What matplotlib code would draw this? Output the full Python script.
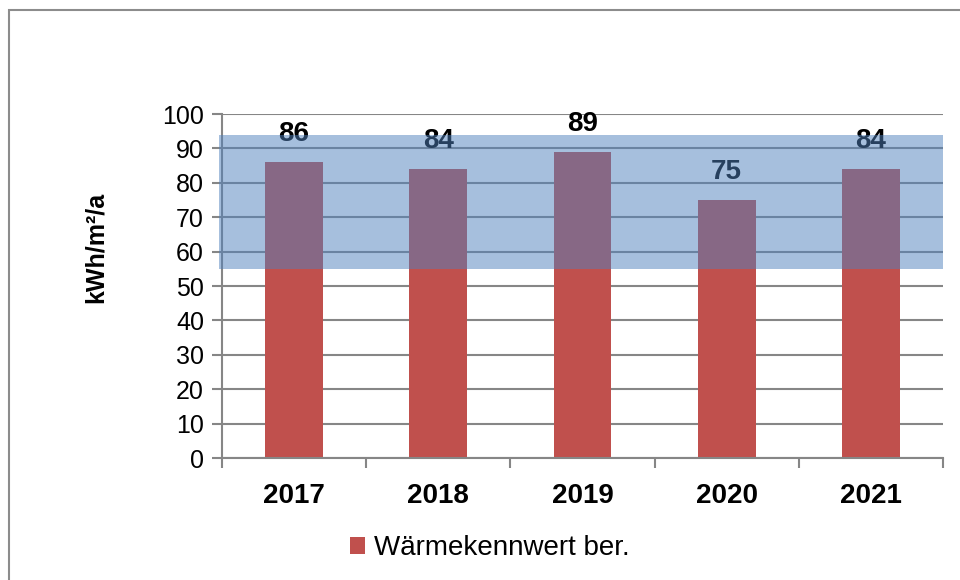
import matplotlib.pyplot as plt
from matplotlib.patches import Rectangle

plt.rcParams['font.family'] = ['Liberation Sans', 'DejaVu Sans']

years = ['2017', '2018', '2019', '2020', '2021']
values = [86, 84, 89, 75, 84]
series_name = 'Wärmekennwert ber.'
band_low, band_high = 55, 94
y_label = 'kWh/m²/a'

bar_color = '#C0504D'
band_color = '#4F81BD'
axis_gray = '#868686'

fig = plt.figure(figsize=(9.6, 5.8), dpi=100)
ax = fig.add_axes([222 / 960, 1 - 458 / 580, (943 - 222) / 960, (458 - 114) / 580])

x = list(range(len(years)))
bars = ax.bar(x, values, width=0.4, color=bar_color, zorder=2, label=series_name)

# value labels sit under the band so they get tinted by it
for xi, v in zip(x, values):
    ax.annotate(str(v), (xi, v), xytext=(0, 20), textcoords='offset points',
                ha='center', va='center', fontsize=20, fontweight='bold',
                color='black', zorder=3)

# target band on top
ax.axhspan(band_low, band_high, xmin=-0.004, xmax=1, color=band_color,
           alpha=0.5, lw=0, zorder=4, clip_on=False)

ax.set_xlim(-0.5, len(years) - 0.5)
ax.set_ylim(0, 100)
ax.set_yticks(range(0, 101, 10))
ax.yaxis.grid(True, color=axis_gray, lw=1.5, zorder=0)
ax.set_axisbelow(True)

ax.set_xticks(x)
ax.set_xticklabels(years, fontsize=20, fontweight='bold')
ax.set_xticks([i - 0.5 for i in range(len(years) + 1)], minor=True)
ax.tick_params(axis='x', which='major', length=0, pad=18)
ax.tick_params(axis='x', which='minor', length=7, width=1.5, color=axis_gray, direction='out')
ax.tick_params(axis='y', length=7, width=1.5, color=axis_gray, labelsize=18, pad=6)

for s in ['top', 'right']:
    ax.spines[s].set_visible(False)
for s in ['left', 'bottom']:
    ax.spines[s].set_color(axis_gray)
    ax.spines[s].set_linewidth(1.5)

fig.text(96 / 960, 1 - 247 / 580, y_label, rotation=90, ha='center', va='center',
         fontsize=18, fontweight='bold')

leg = fig.legend(handles=[bars], labels=[series_name], loc='center left',
                 bbox_to_anchor=(325 / 960, 1 - 548 / 580), frameon=False,
                 fontsize=20, handlelength=0.55, handleheight=0.55, handletextpad=0.3)

# outer chart border
fig.patches.append(Rectangle((9 / 960, -0.1), 1.2, 1 - 10 / 580 + 0.1,
                             transform=fig.transFigure, fill=False,
                             edgecolor='#8C8C8C', lw=1.5))

fig.savefig('out.png', dpi=100)
